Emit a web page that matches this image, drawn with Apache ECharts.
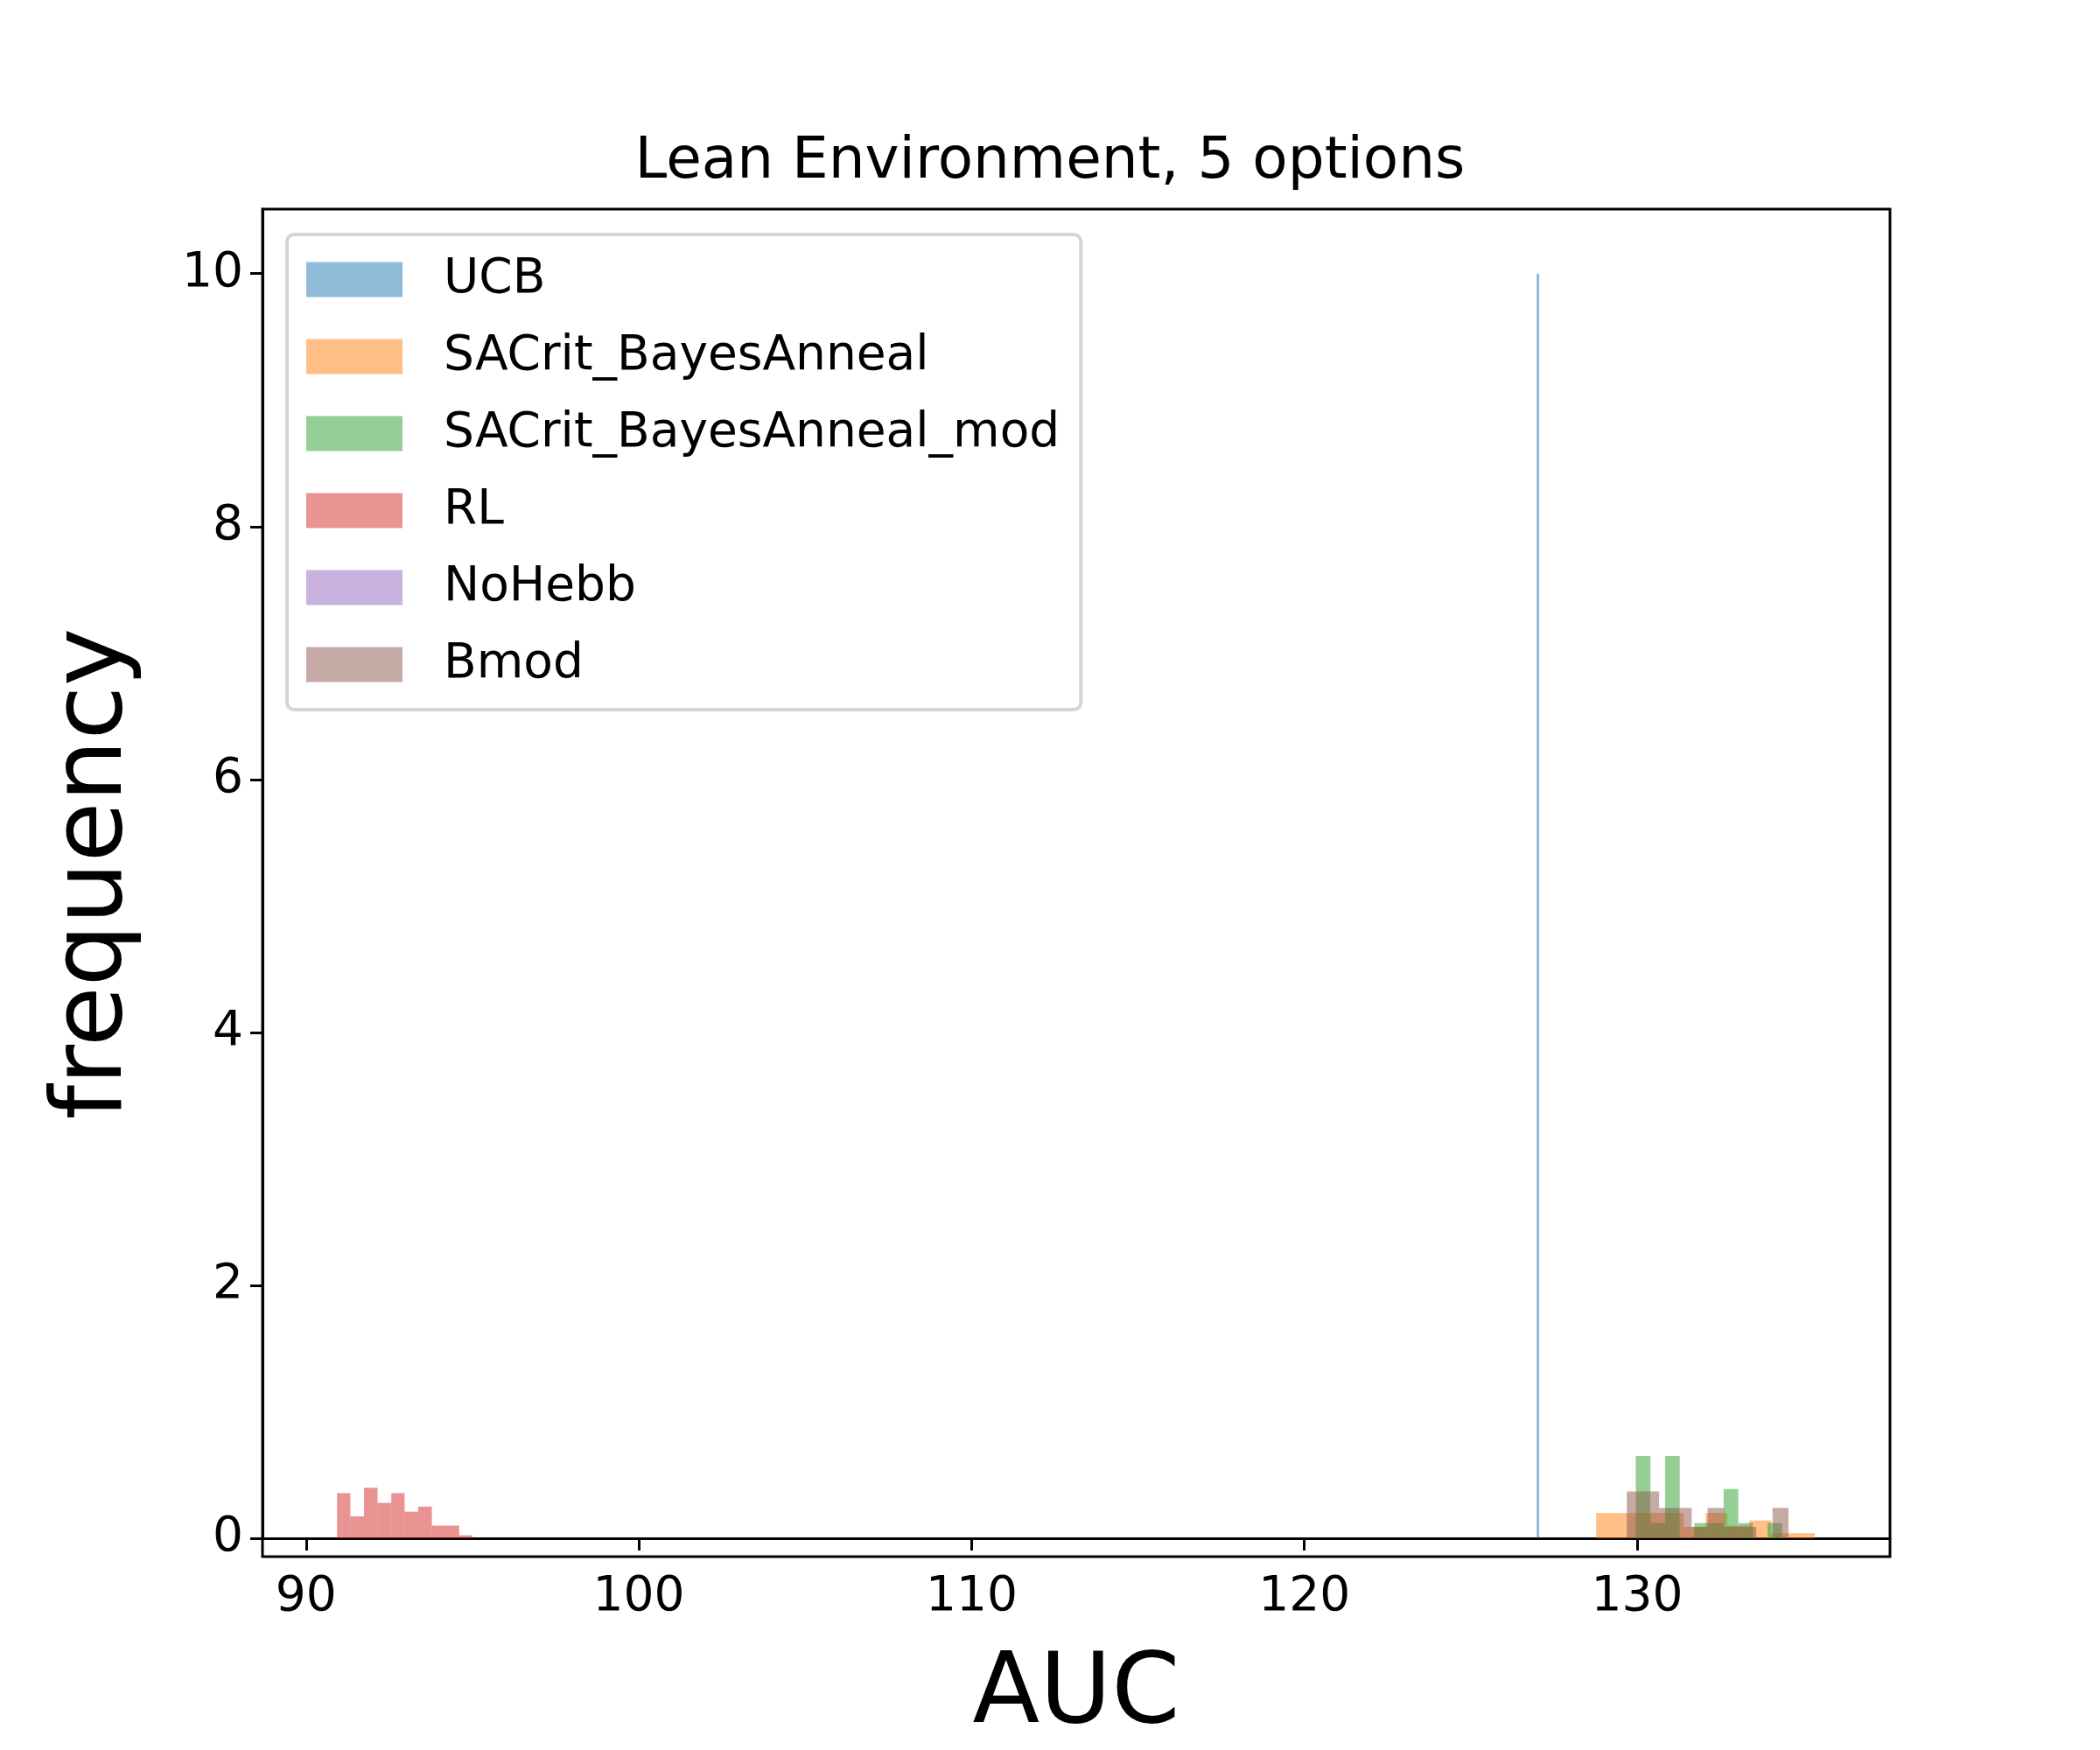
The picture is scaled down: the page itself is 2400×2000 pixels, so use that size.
<!DOCTYPE html>
<html><head><meta charset="utf-8">
<script src="https://cdn.jsdelivr.net/npm/echarts@6/dist/echarts.min.js"></script>
<style>html,body{margin:0;padding:0;background:#fff}#c{width:2400px;height:2000px}</style>
</head><body><div id="c"></div>
<script>
const seriesNames = ['UCB','SACrit_BayesAnneal','SACrit_BayesAnneal_mod','RL','NoHebb','Bmod'];
const colors = ['#1f77b4','#ff7f0e','#2ca02c','#d62728','#9467bd','#8c564b'];
// histogram bin edges and densities
const ucbEdges = [126.98, 127.02];
const ucbCounts = [10];
const sacEdges = [128.77,129.43,130.08,130.74,131.40,132.06,132.71,133.37,134.03,134.69,135.34];
const sacCounts = [0.2,0.2,0.2,0.2,0.09,0.2,0.1,0.14,0.04,0.04];
const sacModEdges = [129.96,130.40,130.84,131.28,131.72,132.16,132.60,133.04,133.48,133.92,134.36];
const sacModCounts = [0.65,0.12,0.65,0,0.12,0.12,0.39,0.12,0,0.12];
const rlEdges = [90.93,91.33,91.74,92.15,92.56,92.96,93.37,93.78,94.19,94.60,95.00];
const rlCounts = [0.357,0.173,0.40,0.28,0.357,0.21,0.25,0.10,0.10,0.023];
const noHebbEdges = [];
const noHebbCounts = [];
const bmodEdges = [129.69,130.18,130.66,131.15,131.64,132.12,132.61,133.10,133.58,134.07,134.55];
const bmodCounts = [0.37,0.37,0.24,0.24,0.09,0.24,0.09,0.09,0,0.24];
const xTicks = [90,100,110,120,130];
const yTicks = [0,2,4,6,8,10];

const allEdges = [ucbEdges,sacEdges,sacModEdges,rlEdges,noHebbEdges,bmodEdges];
const allCounts = [ucbCounts,sacCounts,sacModCounts,rlCounts,noHebbCounts,bmodCounts];

function hist(i){
  const e = allEdges[i], c = allCounts[i], d = [];
  for (let k=0;k<c.length;k++) d.push([e[k],e[k+1],c[k]]);
  return d;
}
const font = 'DejaVu Sans';
const chart = echarts.init(document.getElementById('c'));
chart.setOption({
  animation:false,
  title:{text:'Lean Environment, 5 options',left:'center',top:148,textStyle:{fontFamily:font,fontSize:66,fontWeight:'normal',color:'#000'}},
  grid:{left:300,right:240,top:239,bottom:221},
  legend:{orient:'vertical',left:328,top:268,icon:'rect',itemWidth:110,itemHeight:40,itemGap:33,
    padding:[24,24,24,22],borderColor:'#d5d5d5',borderWidth:4,borderRadius:8,backgroundColor:'#fff',
    textStyle:{fontFamily:font,fontSize:55,color:'#000',padding:[0,0,0,42]},
    data:seriesNames.map((n,i)=>({name:n,itemStyle:{color:colors[i],opacity:0.5}}))},
  xAxis:{type:'value',min:88.69,max:137.6,interval:10,
    axisLine:{onZero:false,lineStyle:{color:'#000',width:3}},
    axisLabel:{fontFamily:font,fontSize:55,color:'#000',margin:40,customValues:xTicks},
    axisTick:{length:14,lineStyle:{width:3,color:'#000'},customValues:xTicks},
    splitLine:{show:false},name:'AUC',nameLocation:'middle',nameGap:125,nameTextStyle:{fontFamily:font,fontSize:112,color:'#000'}},
  yAxis:{type:'value',min:0,max:10.51,interval:2,
    axisLine:{show:true,lineStyle:{color:'#000',width:3}},
    axisTick:{show:true,length:14,lineStyle:{width:3,color:'#000'},customValues:yTicks},
    axisLabel:{fontFamily:font,fontSize:55,color:'#000',margin:22,customValues:yTicks},
    splitLine:{show:false},name:'frequency',nameLocation:'middle',nameGap:135,nameTextStyle:{fontFamily:font,fontSize:112,color:'#000'}},
  graphic:[{type:'rect',shape:{x:300,y:239,width:1860,height:1540},style:{fill:'none',stroke:'#000',lineWidth:3},z:100}],
  series:seriesNames.map((n,i)=>({
    name:n,type:'custom',data:hist(i),itemStyle:{color:colors[i],opacity:0.5},
    encode:{x:[0,1],y:2},
    renderItem:function(params,api){
      const p0=api.coord([api.value(0),0]), p1=api.coord([api.value(1),api.value(2)]);
      return {type:'rect',shape:{x:p0[0],y:p1[1],width:Math.max(p1[0]-p0[0],3),height:p0[1]-p1[1]},
        style:{fill:colors[i],opacity:0.5}};
    }
  }))
});
</script></body></html>
